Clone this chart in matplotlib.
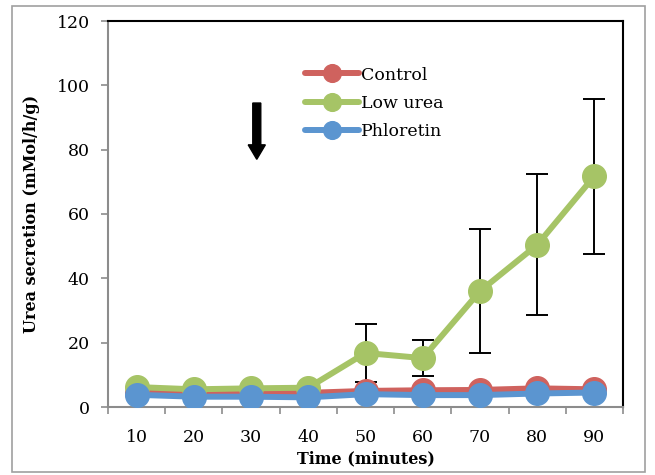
import matplotlib
matplotlib.use("Agg")
from matplotlib import pyplot as plt
from matplotlib.patches import Rectangle, FancyArrow
import numpy as np

plt.rcParams['font.family'] = ['DejaVu Serif']

times = [10, 20, 30, 40, 50, 60, 70, 80, 90]
control = [4.5, 4.2, 4.3, 4.4, 5.0, 5.2, 5.3, 5.8, 5.5]
low_urea = [6.2, 5.5, 5.8, 6.0, 16.8, 15.2, 36.0, 50.4, 71.8]
low_urea_err = [0, 0, 0, 0, 9.0, 5.7, 19.3, 21.9, 24.1]
phloretin = [3.8, 3.2, 3.2, 3.0, 4.0, 3.7, 3.7, 4.2, 4.5]

red = '#CF625E'
green = '#A6C466'
blue = '#5B95D0'

fig = plt.figure(figsize=(6.55, 4.75), dpi=100)
# outer chart frame
fig.patches.append(Rectangle((12/655, 3/475), 633/655, 466/475, transform=fig.transFigure,
                             fill=False, edgecolor='#A0A0A0', linewidth=1.2))
ax = fig.add_axes([108/655, 68/475, 515/655, 386/475])

x = np.arange(len(times))
style = dict(linewidth=4.3, marker='o', markersize=17, solid_capstyle='round')
ax.plot(x, control, color=red, label='Control', zorder=3, **style)
ax.errorbar(x, low_urea, yerr=low_urea_err, fmt='none', ecolor='black',
            elinewidth=1.4, capsize=8, capthick=1.4, zorder=2)
ax.plot(x, low_urea, color=green, label='Low urea', zorder=4, **style)
ax.plot(x, phloretin, color=blue, label='Phloretin', zorder=5, **style)

ax.set_xlim(-0.5, len(times) - 0.5)
ax.set_ylim(0, 120)
ax.set_yticks(range(0, 121, 20))
ax.set_xticks(x)
ax.set_xticklabels([str(t) for t in times])
ax.set_xticks(np.arange(-0.5, len(times)), minor=True)
ax.tick_params(axis='x', which='major', length=0, pad=16, labelsize=12.5)
ax.tick_params(axis='x', which='minor', length=5, color='#8C8C8C', width=1.2)
ax.tick_params(axis='y', length=5, color='#8C8C8C', width=1.2, labelsize=12.5, pad=8)

for side in ['left', 'bottom']:
    ax.spines[side].set_color('#8C8C8C')
    ax.spines[side].set_linewidth(1.5)
for side in ['top', 'right']:
    ax.spines[side].set_color('black')
    ax.spines[side].set_linewidth(1.5)

ax.set_xlabel('Time (minutes)', fontsize=11.5, fontweight='bold', labelpad=3)
ax.set_ylabel('Urea secretion (mMol/h/g)', fontsize=11.5, fontweight='bold', labelpad=12)

# arrow marking the switch of perfusate
ax.add_patch(FancyArrow(2.1, 94.5, 0, -13.0, width=0.14,
                        head_width=0.3, head_length=4.5, color='black',
                        length_includes_head=False, zorder=6))

leg = ax.legend(loc='upper left', bbox_to_anchor=(0.37, 0.90), frameon=False,
                fontsize=12.5, handlelength=3.1, handletextpad=0.1, labelspacing=0.65,
                markerscale=0.75, borderaxespad=0)

fig.savefig('out.png', dpi=100)
